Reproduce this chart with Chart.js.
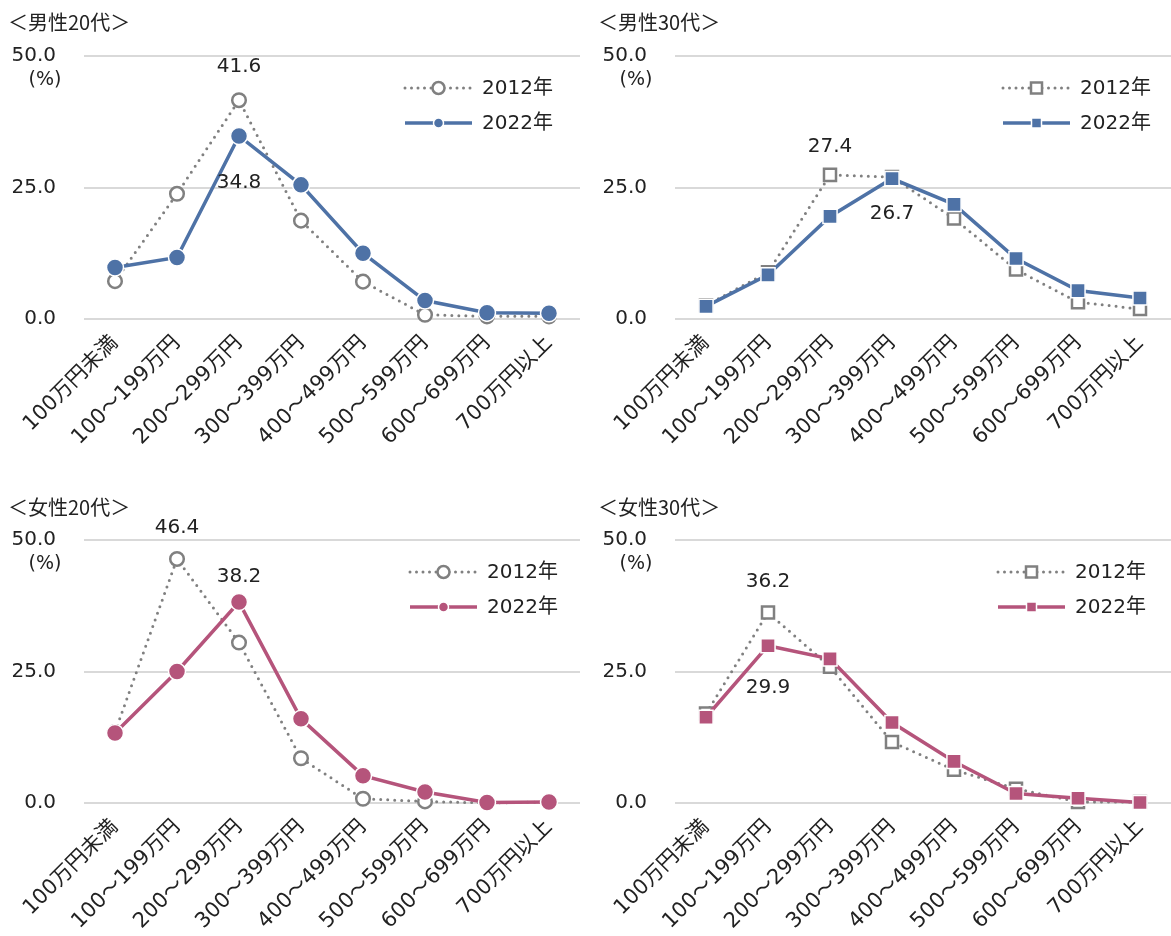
<!DOCTYPE html>
<html lang="ja">
<head>
<meta charset="utf-8">
<script src="https://cdn.jsdelivr.net/npm/chart.js@4.4.1/dist/chart.umd.min.js"></script>
<style>
  body { margin: 0; width: 1171px; height: 936px; overflow: hidden; background: #fff; position: relative;
         font-family: "Noto Sans CJK JP", sans-serif; }
  .title { position: absolute; font-size: 20px; line-height: 1; color: #222; white-space: nowrap; }
  canvas { position: absolute; }
</style>
</head>
<body>
<canvas id="m20" width="585" height="450" style="left:0;top:0"></canvas>
<canvas id="m30" width="580" height="450" style="left:591px;top:0"></canvas>
<canvas id="f20" width="585" height="450" style="left:0;top:484px"></canvas>
<canvas id="f30" width="580" height="450" style="left:591px;top:484px"></canvas>
<div class="title" style="left:8px;top:12px">＜男性20代＞</div>
<div class="title" style="left:598px;top:12px">＜男性30代＞</div>
<div class="title" style="left:8px;top:497px">＜女性20代＞</div>
<div class="title" style="left:598px;top:497px">＜女性30代＞</div>
<script>
const categories = ['100万円未満', '100～199万円', '200～299万円', '300～399万円',
                    '400～499万円', '500～599万円', '600～699万円', '700万円以上'];
const seriesNames = ['2012年', '2022年'];
const yTicks = [0, 25, 50];

const male20_2012 = [7.2, 23.8, 41.6, 18.7, 7.1, 0.8, 0.5, 0.5];
const male20_2022 = [9.8, 11.7, 34.8, 25.5, 12.5, 3.5, 1.2, 1.1];
const male30_2012 = [2.6, 8.9, 27.4, 27.0, 19.1, 9.4, 3.2, 1.9];
const male30_2022 = [2.4, 8.4, 19.5, 26.7, 21.8, 11.5, 5.4, 4.0];
const female20_2012 = [13.5, 46.4, 30.5, 8.5, 0.8, 0.3, 0.0, 0.2];
const female20_2022 = [13.3, 25.0, 38.2, 16.0, 5.2, 2.1, 0.1, 0.2];
const female30_2012 = [17.0, 36.2, 25.9, 11.6, 6.3, 2.7, 0.2, 0.2];
const female30_2022 = [16.3, 29.9, 27.4, 15.3, 7.9, 1.8, 0.9, 0.1];

const BLUE = '#4e72a6';
const PINK = '#b5547b';
const GREY = '#808080';
const TEXT = '#222';
const NUM_FONT = '20px "DejaVu Sans", "Noto Sans CJK JP"';

// which values get a number printed, and how far above/below the point
const labelsM20 = [{ ds: 0, i: 2, dy: -33 }, { ds: 1, i: 2, dy: 47 }];
const labelsM30 = [{ ds: 0, i: 2, dy: -28 }, { ds: 1, i: 3, dy: 35 }];
const labelsF20 = [{ ds: 0, i: 1, dy: -31 }, { ds: 1, i: 2, dy: -25 }];
const labelsF30 = [{ ds: 0, i: 1, dy: -31 }, { ds: 1, i: 1, dy: 42 }];

const marker = (ctx, style, x, y, r) => {
  ctx.beginPath();
  if (style === 'rect') {
    ctx.rect(x - r, y - r, r * 2, r * 2);
  } else {
    ctx.arc(x, y, r, 0, Math.PI * 2);
  }
};

const extras = {
  id: 'extras',
  afterDatasetsDraw(chart, args, opts) {
    const ctx = chart.ctx;
    const area = chart.chartArea;
    ctx.save();
    ctx.fillStyle = TEXT;
    ctx.textAlign = 'center';
    ctx.textBaseline = 'middle';
    ctx.font = '19px "DejaVu Sans"';
    ctx.fillText('(%)', area.left - 39, area.top + 24);

    ctx.font = NUM_FONT;
    opts.labels.forEach((l) => {
      const pt = chart.getDatasetMeta(l.ds).data[l.i];
      const v = chart.data.datasets[l.ds].data[l.i];
      ctx.fillText(v.toFixed(1), pt.x, pt.y + l.dy);
    });

    // legend
    const x0 = area.right + opts.legendX - 77;
    const x1 = area.right + opts.legendX - 10;
    const xm = (x0 + x1) / 2;
    const rows = [area.top + 32, area.top + 67];

    // 2012: dotted grey with open marker
    let y = rows[0];
    ctx.strokeStyle = GREY;
    ctx.lineWidth = 3;
    ctx.lineCap = 'round';
    ctx.setLineDash([0, 6.5]);
    ctx.beginPath();
    ctx.moveTo(x0, y);
    ctx.lineTo(x1, y);
    ctx.stroke();
    ctx.setLineDash([]);
    ctx.fillStyle = '#fff';
    ctx.lineWidth = 2.5;
    marker(ctx, opts.style, xm, y, opts.style === 'rect' ? 5.5 : 6);
    ctx.fill();
    ctx.stroke();

    // 2022: solid coloured with small filled marker
    y = rows[1];
    ctx.strokeStyle = opts.color;
    ctx.lineWidth = 3.5;
    ctx.lineCap = 'butt';
    ctx.beginPath();
    ctx.moveTo(x0, y);
    ctx.lineTo(x1, y);
    ctx.stroke();
    ctx.fillStyle = opts.color;
    ctx.strokeStyle = '#fff';
    ctx.lineWidth = 1.5;
    marker(ctx, opts.style, xm, y, 5);
    ctx.fill();
    ctx.stroke();

    ctx.fillStyle = TEXT;
    ctx.textAlign = 'left';
    ctx.font = NUM_FONT;
    seriesNames.forEach((name, k) => {
      ctx.fillText(name, area.right + opts.legendX, rows[k] + 1);
    });
    ctx.restore();
  }
};

const makeChart = (id, old, now, color, style, labels, legendX) => {
  const ctx = document.getElementById(id).getContext('2d');
  const square = style === 'rect';
  return new Chart(ctx, {
    type: 'line',
    data: {
      labels: categories,
      datasets: [
        {
          label: seriesNames[0],
          data: old,
          order: 1,
          borderColor: GREY,
          borderWidth: 3,
          borderDash: [0, 7],
          borderCapStyle: 'round',
          pointStyle: style,
          pointRadius: square ? 8.5 : 6.8,
          pointBackgroundColor: '#fff',
          pointBorderColor: GREY,
          pointBorderWidth: 2.5,
          tension: 0,
          clip: false,
        },
        {
          label: seriesNames[1],
          data: now,
          order: 0,
          borderColor: color,
          borderWidth: 3.5,
          pointStyle: style,
          pointRadius: square ? 10 : 8.5,
          pointBackgroundColor: color,
          pointBorderColor: '#fff',
          pointBorderWidth: 1.5,
          tension: 0,
          clip: false,
        },
      ],
    },
    options: {
      responsive: false,
      animation: false,
      events: [],
      layout: {
        autoPadding: false,
        padding: { top: 56, right: id.endsWith('30') ? 0 : 5, left: 0, bottom: 0 },
      },
      plugins: {
        legend: { display: false },
        tooltip: { enabled: false },
        extras: { labels: labels, color: color, style: style, legendX: legendX },
      },
      scales: {
        x: {
          offset: true,
          grid: { display: false, drawTicks: false },
          border: { display: false },
          ticks: {
            autoSkip: false,
            minRotation: 45,
            maxRotation: 45,
            padding: 12,
            color: TEXT,
            font: { family: '"DejaVu Sans", "Noto Sans CJK JP"', size: 21 },
          },
          afterFit: (scale) => {
            scale.height = 131;
            scale.paddingLeft = 0;
            scale.paddingRight = 0;
          },
        },
        y: {
          min: 0,
          max: 50,
          afterBuildTicks: (scale) => { scale.ticks = yTicks.map((v) => ({ value: v })); },
          grid: { color: '#d9d9d9', lineWidth: 2, drawTicks: false },
          border: { display: false },
          ticks: {
            padding: 28,
            color: TEXT,
            font: { family: '"DejaVu Sans"', size: 20 },
            callback: (v) => Number(v).toFixed(1),
          },
          afterFit: (scale) => {
            scale.width = 84;
            scale.paddingTop = 0;
            scale.paddingBottom = 0;
          },
        },
      },
    },
    plugins: [extras],
  });
};

window.addEventListener('load', () => {
  makeChart('m20', male20_2012, male20_2022, BLUE, 'circle', labelsM20, -98);
  makeChart('m30', male30_2012, male30_2022, BLUE, 'rect', labelsM30, -91);
  makeChart('f20', female20_2012, female20_2022, PINK, 'circle', labelsF20, -93);
  makeChart('f30', female30_2012, female30_2022, PINK, 'rect', labelsF30, -96);
});
</script>
</body>
</html>
